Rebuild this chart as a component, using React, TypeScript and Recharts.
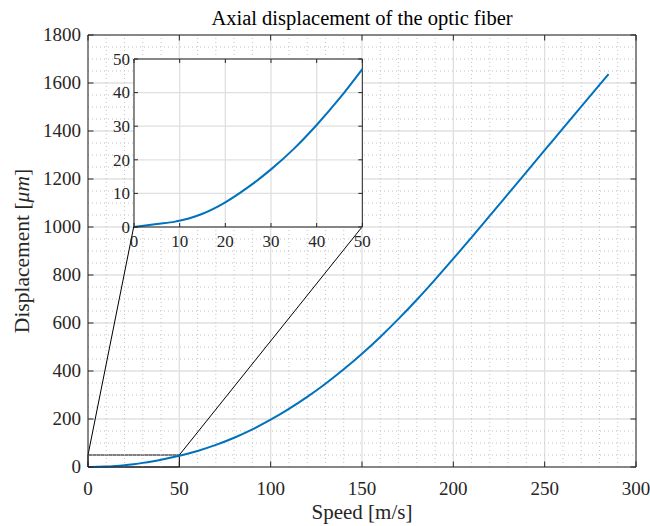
import { LineChart, Line, XAxis, YAxis, CartesianGrid, ReferenceLine, ReferenceArea } from "recharts";

// speed [m/s] and axial displacement [um]
const speed = [0, 5, 9, 10, 12, 15, 20, 25, 30, 35, 40, 45, 50, 60, 70, 80, 90, 100, 110, 120, 130, 140, 150, 160, 170, 180, 190, 200, 210, 220, 230, 240, 250, 260, 270, 280, 285];
const displacement = [0, 0.9, 1.6, 1.9, 2.55, 3.95, 7.35, 11.85, 17.15, 23.25, 30.35, 38.25, 47, 67, 92, 122, 157, 197, 242, 292, 347, 407, 472, 542, 617, 697, 781, 868, 957, 1047, 1138, 1229, 1320, 1411, 1502, 1592, 1637];

const xTicks = [0, 50, 100, 150, 200, 250, 300];
const yTicks = [0, 200, 400, 600, 800, 1000, 1200, 1400, 1600, 1800];
const xMinor = [10, 20, 30, 40, 60, 70, 80, 90, 110, 120, 130, 140, 160, 170, 180, 190, 210, 220, 230, 240, 260, 270, 280, 290];
const yMinor = [50, 100, 150, 250, 300, 350, 450, 500, 550, 650, 700, 750, 850, 900, 950, 1050, 1100, 1150, 1250, 1300, 1350, 1450, 1500, 1550, 1650, 1700, 1750];
const insetTicks = [0, 10, 20, 30, 40, 50];

// zoom window and where the inset sits, in main-axis units
const zoomBox = { x: [0, 50], y: [0, 50] };
const insetAt = { x: [25, 150], y: [1000, 1700] };

const rows = speed.map((s, i) => ({ speed: s, disp: displacement[i] }));
const insetRows = rows.filter((r) => r.speed <= zoomBox.x[1]);

const FONT = "'Liberation Serif', 'Times New Roman', serif";
const AXIS = "#262626";
const BLUE = "#0072BD";
const MINOR = "#c4c4c4";

// the chart covers the whole 650x526 page (body margin removed)
const W = 650;
const H = 526;
const M = { top: 35, right: 14, bottom: 29, left: 28 };
const YW = 60;
const XH = 30;
const PL = M.left + YW;
const PT = M.top;
const PW = W - PL - M.right;
const PH = H - PT - M.bottom - XH;
const PB = PT + PH;
const PR = PL + PW;
const TICK = 5.5;

// inset geometry
const iLeft = PL + (insetAt.x[0] / 300) * PW;
const iRight = PL + (insetAt.x[1] / 300) * PW;
const iTop = PT + (1 - insetAt.y[1] / 1800) * PH;
const iBottom = PT + (1 - insetAt.y[0] / 1800) * PH;
const IM = { top: 10, right: 14, bottom: 0, left: 0 };
const IYW = 30;
const IXH = 26;
const IPW = iRight - iLeft;
const IPH = iBottom - iTop;
const IW = IYW + IPW + IM.right;
const IH = IM.top + IPH + IXH;
const IPT = IM.top;
const IPB = IPT + IPH;
const IPL = IYW;
const IPR = IPL + IPW;
const ITICK = 4;

function MainXTick({ x, payload }: any) {
  return (
    <g>
      <line x1={x} x2={x} y1={PB} y2={PB - TICK} stroke={AXIS} />
      <line x1={x} x2={x} y1={PT} y2={PT + TICK} stroke={AXIS} />
      <text x={x} y={PB + 28} textAnchor="middle" fontSize={19} fontFamily={FONT} fill={AXIS}>
        {payload.value}
      </text>
    </g>
  );
}

function MainYTick({ y, payload }: any) {
  return (
    <g>
      <line x1={PL} x2={PL + TICK} y1={y} y2={y} stroke={AXIS} />
      <line x1={PR} x2={PR - TICK} y1={y} y2={y} stroke={AXIS} />
      <text x={PL - 7} y={y} dy="0.34em" textAnchor="end" fontSize={19} fontFamily={FONT} fill={AXIS}>
        {payload.value}
      </text>
    </g>
  );
}

function InsetXTick({ x, payload }: any) {
  return (
    <g>
      <line x1={x} x2={x} y1={IPB} y2={IPB - ITICK} stroke={AXIS} />
      <line x1={x} x2={x} y1={IPT} y2={IPT + ITICK} stroke={AXIS} />
      <text x={x} y={IPB + 20} textAnchor="middle" fontSize={17} fontFamily={FONT} fill={AXIS}>
        {payload.value}
      </text>
    </g>
  );
}

function InsetYTick({ y, payload }: any) {
  return (
    <g>
      <line x1={IPL} x2={IPL + ITICK} y1={y} y2={y} stroke={AXIS} />
      <line x1={IPR} x2={IPR - ITICK} y1={y} y2={y} stroke={AXIS} />
      <text x={IPL - 4} y={y} dy="0.34em" textAnchor="end" fontSize={17} fontFamily={FONT} fill={AXIS}>
        {payload.value}
      </text>
    </g>
  );
}

const xLabel = () => (
  <text x={PL + PW / 2} y={PB + 52} textAnchor="middle" fontSize={21} fontFamily={FONT} fill={AXIS}>
    Speed [m/s]
  </text>
);

const yLabel = () => (
  <text
    x={0}
    y={0}
    transform={`translate(22,${PT + PH / 2}) rotate(-90)`}
    textAnchor="middle"
    dominantBaseline="central"
    fontSize={21.5}
    fontFamily={FONT}
    fill={AXIS}
  >
    Displacement [<tspan fontStyle="italic">μm</tspan>]
  </text>
);

export default function App() {
  return (
    <div style={{ position: "relative", width: W, height: H, fontFamily: FONT }}>
      <style>{"body { margin: 0; }"}</style>
      <div
        style={{
          position: "absolute",
          left: PL,
          width: PW,
          top: 8,
          textAlign: "center",
          fontSize: 20.5,
          lineHeight: "20px",
          color: "#000",
        }}
      >
        Axial displacement of the optic fiber
      </div>

      <LineChart width={W} height={H} data={rows} margin={M}>
        <CartesianGrid stroke="#e0e0e0" strokeWidth={1.3} />
        {xMinor.map((v) => (
          <ReferenceLine key={"mx" + v} x={v} stroke={MINOR} strokeDasharray="1 3" />
        ))}
        {yMinor.map((v) => (
          <ReferenceLine key={"my" + v} y={v} stroke={MINOR} strokeDasharray="1 3" />
        ))}
        <XAxis
          dataKey="speed"
          type="number"
          domain={[0, 300]}
          ticks={xTicks}
          interval={0}
          height={XH}
          tickSize={0}
          tickLine={false}
          axisLine={{ stroke: AXIS }}
          tick={MainXTick}
          label={{ content: xLabel }}
        />
        <YAxis
          type="number"
          domain={[0, 1800]}
          ticks={yTicks}
          interval={0}
          width={YW}
          tickSize={0}
          tickLine={false}
          axisLine={{ stroke: AXIS }}
          tick={MainYTick}
          label={{ content: yLabel }}
        />
        <ReferenceLine y={1800} stroke={AXIS} ifOverflow="visible" />
        <ReferenceLine x={300} stroke={AXIS} ifOverflow="visible" />
        <ReferenceArea
          x1={zoomBox.x[0]}
          x2={zoomBox.x[1]}
          y1={zoomBox.y[0]}
          y2={zoomBox.y[1]}
          fill="none"
          stroke="#000"
          strokeWidth={1}
        />
        <ReferenceLine
          segment={[
            { x: zoomBox.x[0], y: zoomBox.y[1] },
            { x: insetAt.x[0], y: insetAt.y[0] },
          ]}
          stroke="#000"
          strokeWidth={1}
        />
        <ReferenceLine
          segment={[
            { x: zoomBox.x[1], y: zoomBox.y[1] },
            { x: insetAt.x[1], y: insetAt.y[0] },
          ]}
          stroke="#000"
          strokeWidth={1}
        />
        <Line
          dataKey="disp"
          type="monotone"
          stroke={BLUE}
          strokeWidth={2}
          dot={false}
          isAnimationActive={false}
        />
      </LineChart>

      <div style={{ position: "absolute", left: iLeft - IYW, top: iTop - IM.top }}>
        <LineChart width={IW} height={IH} data={insetRows} margin={IM}>
          <CartesianGrid stroke="#e0e0e0" strokeWidth={1.3} fill="#ffffff" fillOpacity={1} />
          <XAxis
            dataKey="speed"
            type="number"
            domain={[0, 50]}
            ticks={insetTicks}
            interval={0}
            height={IXH}
            tickSize={0}
            tickLine={false}
            axisLine={{ stroke: AXIS }}
            tick={InsetXTick}
          />
          <YAxis
            type="number"
            domain={[0, 50]}
            ticks={insetTicks}
            interval={0}
            width={IYW}
            tickSize={0}
            tickLine={false}
            axisLine={{ stroke: AXIS }}
            tick={InsetYTick}
          />
          <ReferenceLine y={50} stroke={AXIS} ifOverflow="visible" />
          <ReferenceLine x={50} stroke={AXIS} ifOverflow="visible" />
          <Line
            dataKey="disp"
            type="monotone"
            stroke={BLUE}
            strokeWidth={2}
            dot={false}
            isAnimationActive={false}
          />
        </LineChart>
      </div>
    </div>
  );
}
